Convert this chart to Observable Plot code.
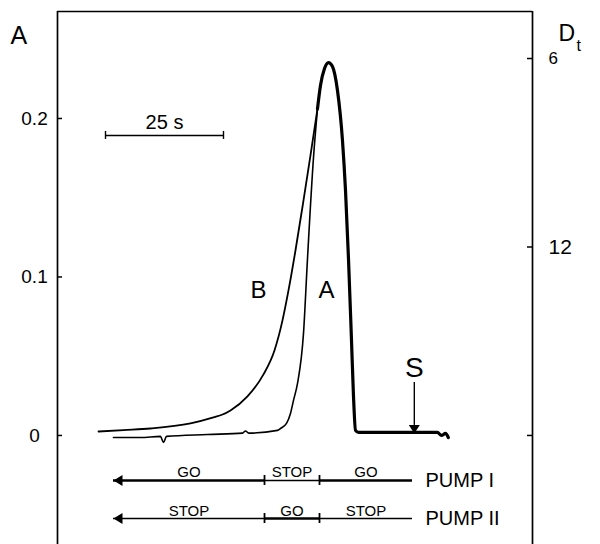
<!DOCTYPE html>
<html><head><meta charset="utf-8">
<script src="https://cdn.jsdelivr.net/npm/d3@7"></script>
<script src="https://cdn.jsdelivr.net/npm/@observablehq/plot@0.6"></script>
<style>body{margin:0;background:#fff} #chart{width:600px;height:544px}</style>
</head><body><div id="chart"></div>
<script>
// time in seconds, absorbance A
const tB = [8.69, 14.0, 19.70, 28.18, 33.05, 34.96, 36.65, 40.25, 43.64, 45.97, 47.67, 48.94, 50.42, 52.12, 53.60, 55.08];
const aB = [0.0025, 0.0034, 0.0044, 0.0076, 0.0114, 0.0132, 0.0158, 0.0246, 0.0385, 0.0536, 0.0726, 0.0915, 0.1167, 0.1483, 0.1767, 0.2060];

const tA = [11.86, 17.58, 21.82, 22.46, 23.09, 31.78, 39.2, 39.83, 40.5, 46.61, 47.25, 48.52, 49.36, 50.0, 50.85, 52.12, 52.97, 54.24, 55.08];
const aA = [-0.0013, -0.0013, -0.0006, -0.0044, -0.0006, 0.0006, 0.0015, 0.0028, 0.0015, 0.0032, 0.0044, 0.0076, 0.0139, 0.0221, 0.0328, 0.0644, 0.1117, 0.1754, 0.2060];

const tPeak = [55.08, 55.72, 56.57, 57.42, 58.26, 59.32, 60.38, 61.02, 61.65, 62.29, 62.71, 63.14, 63.77, 72.0, 80.5, 81.36, 82.2, 82.8];
const aPeak = [0.2060, 0.2208, 0.2315, 0.2353, 0.2328, 0.2177, 0.1861, 0.1546, 0.1117, 0.0599, 0.025, 0.0032, 0.0019, 0.0019, 0.0019, 0.0, 0.0013, -0.0013];

const leftTicks = [0, 0.1, 0.2];
const leftLabels = ["0", "0.1", "0.2"];
const dtTicks = [6, 12];
const dtK = 1.427;          // D_t = dtK / A
const scaleStart = 10.17, scaleLen = 25, scaleA = 0.1893;

const pumpNames = ["PUMP I", "PUMP II"];
const pumpSwitch = [11.86, 43.86, 55.51, 75.21];
const pumpStates = [["GO", "STOP", "GO"], ["STOP", "GO", "STOP"]];

const sTime = 75.6, sTop = 0.0334, sTip = 0.0013;
const curveLabels = [{t: 42.6, a: 0.0915, s: "B"}, {t: 57.0, a: 0.0915, s: "A"}];

// ---- geometry helpers
const X_MAX = 100.64, Y_MIN = -0.0688, Y_MAX = 0.2675;
const pxX = 4.72, pxY = 1585;
const rowY = i => -0.0284 - 0.0240 * i;

const segs = [];
pumpNames.forEach((p, i) => pumpStates[i].forEach((s, j) =>
  segs.push({y: rowY(i), x1: pumpSwitch[j], x2: pumpSwitch[j + 1], s})));
const swTicks = [];
pumpNames.forEach((p, i) => [1, 2].forEach(j => swTicks.push({x: pumpSwitch[j], y: rowY(i)})));
const rows = pumpNames.map((p, i) => ({name: p, y: rowY(i)}));

const triLeft = {draw(c) { c.moveTo(0, 0); c.lineTo(9, -5.5); c.lineTo(9, 5.5); c.closePath(); }};
const triDown = {draw(c) { c.moveTo(0, 0); c.lineTo(-5.5, -8.5); c.lineTo(5.5, -8.5); c.closePath(); }};

const B = tB.map((t, i) => ({t, a: aB[i]}));
const A = tA.map((t, i) => ({t, a: aA[i]}));
const P = tPeak.map((t, i) => ({t, a: aPeak[i]}));
const FF = "Liberation Sans";

const chart = Plot.plot({
  width: 600, height: 544,
  marginLeft: 57, marginRight: 68, marginTop: 11, marginBottom: 0,
  style: {fontFamily: FF, background: "white", color: "black"},
  x: {domain: [0, X_MAX], axis: null},
  y: {domain: [Y_MIN, Y_MAX], axis: null},
  marks: [
    // frame (no bottom)
    Plot.ruleX([0, X_MAX], {y1: Y_MIN, y2: Y_MAX, strokeWidth: 1.7}),
    Plot.ruleY([Y_MAX], {x1: 0, x2: X_MAX, strokeWidth: 1.5}),
    // left ticks & labels
    Plot.ruleY(leftTicks, {x1: 0, x2: 5 / pxX, strokeWidth: 1.5}),
    Plot.text(leftTicks, {x: 0, y: d => d, text: (d, i) => leftLabels[i], dx: -23, textAnchor: "middle", fontSize: 19}),
    // right ticks & labels (D_t)
    Plot.ruleY([0, ...dtTicks.map(d => dtK / d)], {x1: X_MAX - 5 / pxX, x2: X_MAX, strokeWidth: 1.5}),
    Plot.text(dtTicks, {x: X_MAX, y: d => dtK / d, text: d => String(d), dx: 16, textAnchor: "start", fontSize: (d, i) => i === 0 ? 17 : 21}),
    Plot.text(["D"], {x: X_MAX, y: Y_MAX, dx: 26, dy: 29, text: d => d, textAnchor: "start", lineAnchor: "bottom", fontSize: 23}),
    Plot.text(["t"], {x: X_MAX, y: Y_MAX, dx: 44, dy: 39, text: d => d, textAnchor: "start", lineAnchor: "bottom", fontSize: 16}),
    // axis title
    Plot.text(["A"], {x: 0, y: Y_MAX, dx: -47, dy: 32, text: d => d, textAnchor: "start", lineAnchor: "bottom", fontSize: 25}),
    // time scale bar
    Plot.ruleY([scaleA], {x1: scaleStart, x2: scaleStart + scaleLen, strokeWidth: 1.4}),
    Plot.ruleX([scaleStart, scaleStart + scaleLen], {y1: scaleA - 4 / pxY, y2: scaleA + 4 / pxY, strokeWidth: 1.4}),
    Plot.text([scaleLen], {x: scaleStart + scaleLen / 2, y: scaleA, dy: -6, text: d => d + " s", lineAnchor: "bottom", fontSize: 20}),
    // curves
    Plot.line(B, {x: "t", y: "a", curve: "monotone-x", strokeWidth: 1.8}),
    Plot.line(A, {x: "t", y: "a", curve: "monotone-x", strokeWidth: 1.6}),
    Plot.line(P, {x: "t", y: "a", curve: "monotone-x", strokeWidth: 3.2}),
    Plot.text(curveLabels, {x: "t", y: "a", text: "s", fontSize: 24, lineAnchor: "middle"}),
    // S marker
    Plot.ruleX([sTime], {y1: sTip + 8 / pxY, y2: sTop, strokeWidth: 1.4}),
    Plot.dot([sTime], {x: d => d, y: () => sTip, symbol: triDown, r: 1, fill: "black", stroke: "none"}),
    Plot.text(["S"], {x: sTime, y: sTop, dy: -6, text: d => d, lineAnchor: "bottom", fontSize: 28}),
    // pump program
    Plot.ruleY(segs.filter(d => d.s === "GO"), {y: "y", x1: "x1", x2: "x2", strokeWidth: 2.6}),
    Plot.ruleY(segs.filter(d => d.s !== "GO"), {y: "y", x1: "x1", x2: "x2", strokeWidth: 1.4}),
    Plot.ruleX(swTicks, {x: "x", y1: d => d.y - 5 / pxY, y2: d => d.y + 5 / pxY, strokeWidth: 1.8}),
    Plot.dot(rows, {x: () => pumpSwitch[0], y: "y", symbol: triLeft, r: 1, fill: "black", stroke: "none"}),
    Plot.text(segs, {x: d => (d.x1 + d.x2) / 2, y: "y", text: "s", dy: -3, lineAnchor: "bottom", fontSize: 15}),
    Plot.text(rows, {x: () => pumpSwitch[3], y: "y", text: "name", dx: 13, textAnchor: "start", lineAnchor: "middle", fontSize: 20})
  ]
});
document.getElementById("chart").appendChild(chart);
</script>
</body></html>
